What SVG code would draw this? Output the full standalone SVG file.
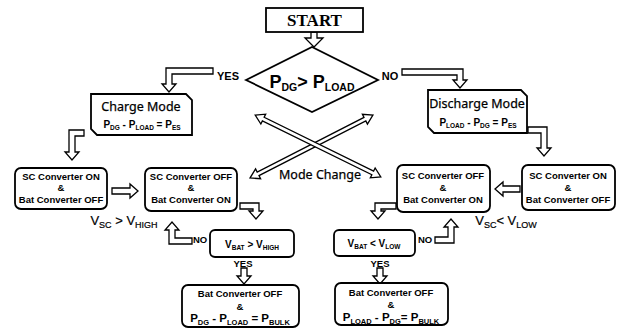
<svg xmlns="http://www.w3.org/2000/svg" width="627" height="331" viewBox="0 0 627 331">
<style>
.box{fill:#fff;stroke:#000;stroke-width:1.8}
.arr{fill:#fff;stroke:#000;stroke-width:1.3;stroke-linejoin:miter}
.t{font-family:"Liberation Sans",Arial,sans-serif;font-weight:bold;font-size:9.5px;fill:#000;text-anchor:middle}
.m{font-family:"Noto Sans","Liberation Sans",sans-serif;font-size:12.5px;fill:#000;stroke:#000;stroke-width:0.25;text-anchor:middle}
.f{font-family:"Liberation Sans",Arial,sans-serif;font-weight:bold;font-size:10px;fill:#000;text-anchor:middle}
.fb{font-family:"Liberation Sans",Arial,sans-serif;font-weight:bold;font-size:11.5px;fill:#000;text-anchor:middle}
.fv{font-family:"Liberation Sans",Arial,sans-serif;font-weight:bold;font-size:10px;fill:#000;text-anchor:middle}
.v{font-family:"Liberation Sans",Arial,sans-serif;font-size:13px;fill:#000;stroke:#000;stroke-width:0.2;text-anchor:middle}
.s{font-size:6.5px}
.s2{font-size:7.5px}
.s3{font-size:9px}
.lb{font-family:"Liberation Sans",Arial,sans-serif;font-weight:bold;font-size:11px;fill:#000;text-anchor:middle}
</style>
<rect width="627" height="331" fill="#fff"/>

<g id="connectors">
  <path class="arr" d="M311,32 L317,32 L317,38 L323,38 L314,47 L305,38 L311,38 Z"/>
  <path class="arr" d="M213,68 L166,68 L166,84 L162,84 L169,92 L176,84 L172,84 L172,74 L213,74 Z"/>
  <path class="arr" d="M402,69 L463,69 L463,80 L467,80 L460,88 L453,80 L457,80 L457,75 L402,75 Z"/>
  <path class="arr" d="M84,130 L69,130 L69,152 L65,152 L72,160 L79,152 L75,152 L75,136 L84,136 Z"/>
  <path class="arr" d="M112,188 L130,188 L130,184 L138,191 L130,198 L130,194 L112,194 Z"/>
  <path class="arr" d="M240,203 L259,203 L259,211 L263,211 L256,219 L249,211 L253,211 L253,209 L240,209 Z"/>
  <path class="arr" d="M192,244 L169,244 L169,230 L165,230 L172,222 L179,230 L175,230 L175,238 L192,238 Z"/>
  <path class="arr" d="M241,268 L247,268 L247,276 L251,276 L244,284 L237,276 L241,276 Z"/>
  <path class="arr" d="M528,127 L547,127 L547,148 L551,148 L544,156 L537,148 L541,148 L541,133 L528,133 Z"/>
  <path class="arr" d="M520,186 L503,186 L503,182 L495,189 L503,196 L503,192 L520,192 Z"/>
  <path class="arr" d="M396,203 L375,203 L375,211 L371,211 L378,219 L385,211 L381,211 L381,209 L396,209 Z"/>
  <path class="arr" d="M435,243 L454,243 L454,227 L458,227 L451,219 L444,227 L448,227 L448,237 L435,237 Z"/>
  <path class="arr" d="M377,268 L383,268 L383,276 L387,276 L380,284 L373,276 L377,276 Z"/>
  <path class="arr" transform="translate(311.5,146.5) rotate(-27.1)" d="M-69,0 L-60,-5.5 L-60,-2 L60,-2 L60,-5.5 L69,0 L60,5.5 L60,2 L-60,2 L-60,5.5 Z"/>
  <path class="arr" transform="translate(318,146) rotate(26.2)" d="M-70,0 L-61,-5.5 L-61,-2 L61,-2 L61,-5.5 L70,0 L61,5.5 L61,2 L-61,2 L-61,5.5 Z"/>
  <text class="lb" x="228" y="80">YES</text>
  <text class="lb" x="390" y="80">NO</text>
  <text class="t" x="200" y="243">NO</text>
  <text class="t" x="425" y="243">NO</text>
  <text class="t" x="243" y="267">YES</text>
  <text class="t" x="380" y="267">YES</text>
  <text class="m" x="320" y="179">Mode Change</text>
  <text class="v" x="124" y="225">V<tspan class="s3" dy="3">SC</tspan><tspan dy="-3"> &gt; V</tspan><tspan class="s3" dy="3">HIGH</tspan></text>
  <text class="v" x="506" y="225">V<tspan class="s3" dy="3">SC</tspan><tspan dy="-3">&lt; V</tspan><tspan class="s3" dy="3">LOW</tspan></text>
</g>

<g id="start">
  <rect class="box" x="266" y="8" width="97" height="24"/>
  <text x="314.5" y="26" font-family="Liberation Serif" font-weight="bold" font-size="17" text-anchor="middle">START</text>
</g>

<g id="decision">
  <polygon class="box" points="246,80 312,47 378,80 312,112"/>
  <text x="312" y="88" font-family="Liberation Sans" font-weight="bold" font-size="18" text-anchor="middle">P<tspan font-size="10.5" dy="3">DG</tspan><tspan dy="-3">&gt; P</tspan><tspan font-size="10.5" dy="3">LOAD</tspan></text>
</g>

<g id="charge">
  <path class="box" d="M91,94 L186,94 L192,100 L192,135 L97,135 L91,129 Z"/>
  <text class="m" x="141" y="111">Charge Mode</text>
  <text class="f" x="142" y="128">P<tspan class="s" dy="2">DG</tspan><tspan dy="-2"> - P</tspan><tspan class="s" dy="2">LOAD</tspan><tspan dy="-2"> = P</tspan><tspan class="s" dy="2">ES</tspan></text>
</g>

<g id="discharge">
  <path class="box" d="M428,90 L521,90 L527,96 L527,133 L434,133 L428,127 Z"/>
  <text class="m" x="477" y="108" font-size="12">Discharge Mode</text>
  <text class="f" x="478" y="126">P<tspan class="s" dy="2">LOAD</tspan><tspan dy="-2"> - P</tspan><tspan class="s" dy="2">DG</tspan><tspan dy="-2"> = P</tspan><tspan class="s" dy="2">ES</tspan></text>
</g>

<g id="left1">
  <rect class="box" x="15" y="168" width="92" height="41" rx="6"/>
  <text class="t" x="61" y="180">SC Converter ON</text>
  <text class="t" x="61" y="191">&amp;</text>
  <text class="t" x="61" y="203">Bat Converter  OFF</text>
</g>

<g id="mid1">
  <rect class="box" x="145" y="168" width="92" height="43" rx="6"/>
  <text class="t" x="191" y="180">SC Converter  OFF</text>
  <text class="t" x="191" y="191">&amp;</text>
  <text class="t" x="191" y="203">Bat Converter  ON</text>
</g>

<g id="vbat_high">
  <rect class="box" x="210" y="230" width="84" height="27" rx="5"/>
  <text class="fv" x="252" y="248">V<tspan class="s" dy="2">BAT</tspan><tspan dy="-2"> &gt; V</tspan><tspan class="s" dy="2">HIGH</tspan></text>
</g>

<g id="bulk_left">
  <rect class="box" x="182" y="285" width="117" height="42" rx="6"/>
  <text class="t" x="240" y="297">Bat  Converter  OFF</text>
  <text class="t" x="240" y="310">&amp;</text>
  <text class="fb" x="240" y="322">P<tspan class="s2" dy="2.5">DG</tspan><tspan dy="-2.5"> - P</tspan><tspan class="s2" dy="2.5">LOAD</tspan><tspan dy="-2.5"> = P</tspan><tspan class="s2" dy="2.5">BULK</tspan></text>
</g>

<g id="mid2">
  <rect class="box" x="397" y="165" width="93" height="47" rx="6"/>
  <text class="t" x="443" y="179">SC Converter  OFF</text>
  <text class="t" x="443" y="191">&amp;</text>
  <text class="t" x="443" y="203">Bat Converter  ON</text>
</g>

<g id="right1">
  <rect class="box" x="522" y="165" width="93" height="45" rx="6"/>
  <text class="t" x="568" y="179">SC Converter  ON</text>
  <text class="t" x="568" y="191">&amp;</text>
  <text class="t" x="568" y="203">Bat Converter  OFF</text>
</g>

<g id="vbat_low">
  <rect class="box" x="334" y="230" width="81" height="26" rx="5"/>
  <text class="fv" x="374" y="247">V<tspan class="s" dy="2">BAT</tspan><tspan dy="-2"> &lt; V</tspan><tspan class="s" dy="2">LOW</tspan></text>
</g>

<g id="bulk_right">
  <rect class="box" x="335" y="283" width="113" height="42" rx="6"/>
  <text class="t" x="391" y="296">Bat  Converter  OFF</text>
  <text class="t" x="391" y="308">&amp;</text>
  <text class="fb" x="391" y="321">P<tspan class="s2" dy="2.5">LOAD</tspan><tspan dy="-2.5"> - P</tspan><tspan class="s2" dy="2.5">DG</tspan><tspan dy="-2.5">= P</tspan><tspan class="s2" dy="2.5">BULK</tspan></text>
</g>
</svg>
